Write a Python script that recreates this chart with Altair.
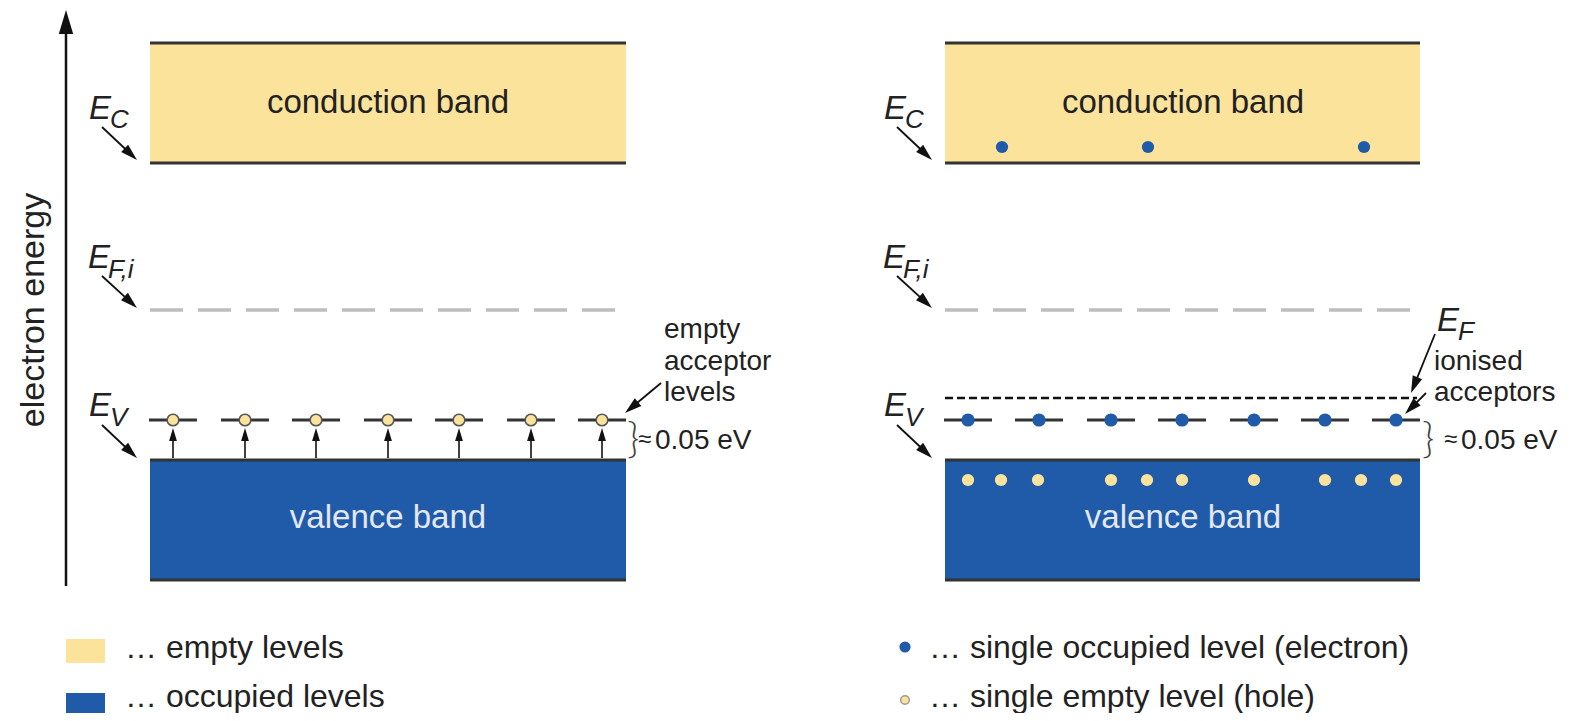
import altair as alt
import pandas as pd
import numpy as np

# ---------------- values (page-pixel units) ----------------
PAGE_W, PAGE_H, MARGIN = 1589, 721, 8

# energy levels (vertical positions)
CB_TOP = 43
E_C = 163
E_FI = 310
E_F = 398
E_A = 420
E_V = 460
VB_BOTTOM = 580

band_left = [150, 945]
band_right = [626, 1420]
dash_right = [615, 1410]
ef_right = 1417
panel_shift = 795

acceptor_x_left = [173, 245, 316, 388, 459, 531, 602]
acceptor_x_right = [968, 1039, 1111, 1182, 1254, 1325, 1396]
acceptor_half = 24
electron_cb_x = [1002, 1148, 1364]
electron_cb_y = 147
hole_vb_x = [968, 1001, 1038, 1111, 1147, 1182, 1254, 1325, 1361, 1396]
hole_vb_y = 480

YELLOW = "#FCE39B"
BLUE = "#1F5BA8"
EDGE = "#333333"
GRAY = "#BDBDBD"
TXT = "#222222"
FONT = "Liberation Sans"

xs = alt.Scale(domain=[MARGIN, PAGE_W - MARGIN], nice=False, zero=False)
ys = alt.Scale(domain=[MARGIN, PAGE_H - MARGIN], nice=False, zero=False, reverse=True)


def X(f="x"):
    return alt.X(f"{f}:Q", scale=xs, axis=None)


def Y(f="y"):
    return alt.Y(f"{f}:Q", scale=ys, axis=None)


layers = []

# ---------------- bands ----------------
rects = pd.DataFrame({
    "x": band_left * 2,
    "x2": band_right * 2,
    "y": [CB_TOP, CB_TOP, E_V, E_V],
    "y2": [E_C, E_C, VB_BOTTOM, VB_BOTTOM],
    "c": [YELLOW, YELLOW, BLUE, BLUE],
})
layers.append(alt.Chart(rects).mark_rect().encode(
    x=X(), x2="x2:Q", y=Y(), y2="y2:Q", color=alt.Color("c:N", scale=None)))

# legend squares
leg_rects = pd.DataFrame({"x": [66, 66], "x2": [105, 105], "y": [639, 693], "y2": [663, 713],
                          "c": [YELLOW, BLUE]})
layers.append(alt.Chart(leg_rects).mark_rect().encode(
    x=X(), x2="x2:Q", y=Y(), y2="y2:Q", color=alt.Color("c:N", scale=None)))

# band edges
edges = pd.DataFrame({
    "x": [b for b in band_left for _ in range(4)],
    "x2": [b for b in band_right for _ in range(4)],
    "y": [CB_TOP, E_C, E_V, VB_BOTTOM] * 2,
})
layers.append(alt.Chart(edges).mark_rule(color=EDGE, strokeWidth=3).encode(
    x=X(), x2="x2:Q", y=Y()))

# intrinsic Fermi level (grey dashes)
efi = pd.DataFrame({"x": band_left, "x2": dash_right, "y": [E_FI, E_FI]})
layers.append(alt.Chart(efi).mark_rule(color=GRAY, strokeWidth=3.5, strokeDash=[33, 15]).encode(
    x=X(), x2="x2:Q", y=Y()))

# Fermi level of p-type (black fine dashes)
ef = pd.DataFrame({"x": [band_left[1]], "x2": [ef_right], "y": [E_F]})
layers.append(alt.Chart(ef).mark_rule(color="#111111", strokeWidth=2.4, strokeDash=[8, 4]).encode(
    x=X(), x2="x2:Q", y=Y()))

# acceptor level segments
acc_all = acceptor_x_left + acceptor_x_right
acc = pd.DataFrame({"x": [a - acceptor_half for a in acc_all],
                    "x2": [a + acceptor_half for a in acc_all],
                    "y": [E_A] * len(acc_all)})
layers.append(alt.Chart(acc).mark_rule(color=EDGE, strokeWidth=3).encode(
    x=X(), x2="x2:Q", y=Y()))

# ---------------- arrows ----------------
arrows = pd.DataFrame({
    "x1": [102, 102, 102, 661, 102 + panel_shift, 102 + panel_shift, 102 + panel_shift, 1435, 1426, 66]
          + acceptor_x_left,
    "y1": [127, 276, 425, 383, 127, 276, 425, 334, 393, 586] + [E_V - 2] * len(acceptor_x_left),
    "x2": [137, 137, 137, 625, 137 + panel_shift, 137 + panel_shift, 137 + panel_shift, 1411, 1405, 66]
          + acceptor_x_left,
    "y2": [160, 308, 458, 413, 160, 308, 458, 393, 414, 10] + [E_A + 8] * len(acceptor_x_left),
    "hl": [17] * 9 + [24] + [13] * len(acceptor_x_left),
    "w": [1.8] * 9 + [2.5] + [1.6] * len(acceptor_x_left),
})
dx = arrows.x2 - arrows.x1
dy = arrows.y2 - arrows.y1
ln = np.hypot(dx, dy)
ux, uy = dx / ln, dy / ln
arrows["hx"] = arrows.x2 - ux * arrows.hl / 2
arrows["hy"] = arrows.y2 - uy * arrows.hl / 2
arrows["ang"] = np.degrees(np.arctan2(dx, -dy)) % 360
arrows["sz"] = arrows.hl ** 2
arrows["ex"] = arrows.x2 - ux * arrows.hl * 0.6
arrows["ey"] = arrows.y2 - uy * arrows.hl * 0.6

layers.append(alt.Chart(arrows).mark_rule(color="#111111").encode(
    x=X("x1"), y=Y("y1"), x2="ex:Q", y2="ey:Q", strokeWidth=alt.StrokeWidth("w:Q", scale=None)))
layers.append(alt.Chart(arrows).mark_point(
    shape="M0,-1L0.6,1L-0.6,1Z", filled=True, color="#111111", opacity=1, strokeWidth=0).encode(
    x=X("hx"), y=Y("hy"), size=alt.Size("sz:Q", scale=None), angle=alt.Angle("ang:Q", scale=None)))

# ---------------- dots ----------------
holes_acc = pd.DataFrame({"x": acceptor_x_left, "y": [E_A] * len(acceptor_x_left)})
layers.append(alt.Chart(holes_acc).mark_point(
    shape="circle", filled=True, fill=YELLOW, stroke="#555555", strokeWidth=1.5, opacity=1, size=135).encode(
    x=X(), y=Y()))

el_acc = pd.DataFrame({"x": acceptor_x_right, "y": [E_A] * len(acceptor_x_right)})
layers.append(alt.Chart(el_acc).mark_circle(color=BLUE, opacity=1, size=175).encode(x=X(), y=Y()))

el_cb = pd.DataFrame({"x": electron_cb_x, "y": [electron_cb_y] * len(electron_cb_x)})
layers.append(alt.Chart(el_cb).mark_circle(color=BLUE, opacity=1, size=150).encode(x=X(), y=Y()))

h_vb = pd.DataFrame({"x": hole_vb_x, "y": [hole_vb_y] * len(hole_vb_x)})
layers.append(alt.Chart(h_vb).mark_circle(color=YELLOW, opacity=1, size=150).encode(x=X(), y=Y()))

leg_el = pd.DataFrame({"x": [905], "y": [647]})
layers.append(alt.Chart(leg_el).mark_circle(color=BLUE, opacity=1, size=125).encode(x=X(), y=Y()))
leg_h = pd.DataFrame({"x": [905], "y": [700]})
layers.append(alt.Chart(leg_h).mark_point(
    shape="circle", filled=True, fill=YELLOW, stroke="#999999", strokeWidth=1.5, opacity=1, size=75).encode(
    x=X(), y=Y()))


# ---------------- texts ----------------
def text_layer(df, **kw):
    base = dict(font=FONT, color=TXT, baseline="alphabetic", align="left")
    base.update(kw)
    return alt.Chart(df).mark_text(**base).encode(x=X(), y=Y(), text="t:N")


band_txt = pd.DataFrame({"x": [388, 1183], "y": [113, 113], "t": ["conduction band"] * 2})
layers.append(text_layer(band_txt, fontSize=33, align="center"))
vb_txt = pd.DataFrame({"x": [388, 1183], "y": [528, 528], "t": ["valence band"] * 2})
layers.append(text_layer(vb_txt, fontSize=33, align="center", color="#E4E7F4"))

ee = pd.DataFrame({"x": [44], "y": [310], "t": ["electron energy"]})
layers.append(text_layer(ee, fontSize=34, align="center", angle=270))

E_main = pd.DataFrame({
    "x": [89, 88, 89, 89 + panel_shift, 88 + panel_shift, 89 + panel_shift, 1437],
    "y": [119, 268, 416, 119, 268, 416, 331],
    "t": ["E"] * 7,
})
layers.append(text_layer(E_main, fontSize=33, fontStyle="italic"))
E_sub = pd.DataFrame({
    "x": [110, 108, 110, 110 + panel_shift, 108 + panel_shift, 110 + panel_shift, 1458],
    "y": [128, 278, 426, 128, 278, 426, 340],
    "t": ["C", "F,i", "V", "C", "F,i", "V", "F"],
})
layers.append(text_layer(E_sub, fontSize=26, fontStyle="italic"))

notes = pd.DataFrame({
    "x": [664, 664, 664, 1434, 1434],
    "y": [338, 370, 401, 370, 401],
    "t": ["empty", "acceptor", "levels", "ionised", "acceptors"],
})
layers.append(text_layer(notes, fontSize=28))

approx = pd.DataFrame({"x": [638, 1444], "y": [447, 447], "t": ["≈"] * 2})
layers.append(text_layer(approx, fontSize=24))
ev = pd.DataFrame({"x": [655, 1461], "y": [449, 449], "t": ["0.05 eV"] * 2})
layers.append(text_layer(ev, fontSize=28))

brace = pd.DataFrame({"x": [627, 1422], "y": [440, 440], "t": ["}"] * 2})
layers.append(text_layer(brace, font="Lato", fontWeight=300, fontSize=42, baseline="middle",
                         color="#444444"))

legend_txt = pd.DataFrame({
    "x": [125, 125, 929, 929],
    "y": [658, 707, 658, 707],
    "t": ["… empty levels", "… occupied levels",
          "… single occupied level (electron)", "… single empty level (hole)"],
})
layers.append(text_layer(legend_txt, fontSize=32))

chart = alt.layer(*layers).properties(
    width=PAGE_W - 2 * MARGIN, height=PAGE_H - 2 * MARGIN,
    autosize=alt.AutoSizeParams(type="none"), padding=0,
).configure_view(stroke=None)

chart.save("out.html", embed_options={"renderer": "svg", "actions": False})
